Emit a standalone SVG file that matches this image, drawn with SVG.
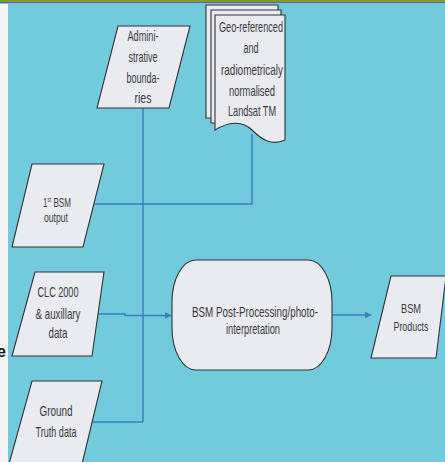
<svg xmlns="http://www.w3.org/2000/svg" width="445" height="462" viewBox="0 0 445 462">
  <defs>
    <style>
      .box { fill: #e9ebf1; stroke: #333; stroke-width: 1.1; }
      .lbl { font-family: "Liberation Sans", Arial, sans-serif; font-size: 15px; fill: #3a3a3a; text-anchor: middle; }
      .sm { font-size: 13.5px; }
      .wire { fill: none; stroke: #3f7cc0; stroke-width: 1.5; }
    </style>
    <marker id="arrow" viewBox="0 0 10 10" refX="9" refY="5" markerWidth="7" markerHeight="7" orient="auto" markerUnits="userSpaceOnUse">
      <path d="M0,0 L10,5 L0,10 z" fill="#3f7cc0"/>
    </marker>
  </defs>

  <!-- slide frame -->
  <rect x="0" y="0" width="445" height="462" fill="#f4f5f6"/>
  <rect x="0" y="0" width="445" height="2.2" fill="#7f9b2e"/>
  <rect x="0" y="2.2" width="445" height="1.2" fill="#2e4f9b"/>
  <rect x="8" y="4" width="437" height="458" fill="#72cbdc"/>
  <text x="-3" y="357" font-family="Liberation Sans, Arial, sans-serif" font-weight="bold" font-size="16" fill="#111">e</text>

  <!-- connectors -->
  <g id="connectors">
    <path class="wire" d="M143,108 V422"/>
    <path class="wire" d="M252,134 V204 H143"/>
    <path class="wire" d="M94,204 H143"/>
    <path class="wire" d="M92,422 H143"/>
    <path class="wire" d="M98,314 H125 V315.5 H171" marker-end="url(#arrow)"/>
    <path class="wire" d="M332,315 H371" marker-end="url(#arrow)"/>
  </g>

  <!-- Administrative boundaries -->
  <g id="admin">
    <polygon class="box" points="118,26 190,26 169,108 97,108"/>
    <text class="lbl" x="143" y="41" textLength="31" lengthAdjust="spacingAndGlyphs">Admini-</text>
    <text class="lbl" x="143" y="62" textLength="29" lengthAdjust="spacingAndGlyphs">strative</text>
    <text class="lbl" x="143" y="83" textLength="33" lengthAdjust="spacingAndGlyphs">bounda-</text>
    <text class="lbl" x="143" y="103" textLength="17" lengthAdjust="spacingAndGlyphs">ries</text>
  </g>

  <!-- Landsat TM document stack -->
  <g id="landsat">
    <path class="box" d="M206,5 H278 V118 H206 Z"/>
    <path class="box" d="M211,10 H281 V123 H211 Z"/>
    <path class="box" d="M215,15 H285 V140 C272,146 262,140 252,130 C242,120 228,122 215,130 Z"/>
    <text class="lbl" x="251" y="32" textLength="64" lengthAdjust="spacingAndGlyphs">Geo-referenced</text>
    <text class="lbl" x="251" y="53" textLength="15" lengthAdjust="spacingAndGlyphs">and</text>
    <text class="lbl" x="252" y="75" textLength="62" lengthAdjust="spacingAndGlyphs">radiometricaly</text>
    <text class="lbl" x="252" y="96" textLength="46" lengthAdjust="spacingAndGlyphs">normalised</text>
    <text class="lbl" x="252" y="116" textLength="48" lengthAdjust="spacingAndGlyphs">Landsat TM</text>
  </g>

  <!-- 1st BSM output -->
  <g id="first-bsm">
    <polygon class="box" points="32,164 104,164 83,247 12,247"/>
    <text class="lbl sm" transform="translate(57,207) scale(0.6,1)">1<tspan font-size="8" dy="-5">st</tspan><tspan dy="5"> BSM</tspan></text>
    <text class="lbl sm" x="56" y="222" textLength="24" lengthAdjust="spacingAndGlyphs">output</text>
  </g>

  <!-- CLC 2000 & auxillary data -->
  <g id="clc">
    <polygon class="box" points="35,272 104,272 92,356 12,356"/>
    <text class="lbl" x="58" y="297" textLength="41" lengthAdjust="spacingAndGlyphs">CLC 2000</text>
    <text class="lbl" x="58" y="319" textLength="45" lengthAdjust="spacingAndGlyphs">&amp; auxillary</text>
    <text class="lbl" x="58" y="338" textLength="19" lengthAdjust="spacingAndGlyphs">data</text>
  </g>

  <!-- Ground Truth data -->
  <g id="ground-truth">
    <polygon class="box" points="32,381 102,381 82,464 9,464"/>
    <text class="lbl" x="56" y="416" textLength="33" lengthAdjust="spacingAndGlyphs">Ground</text>
    <text class="lbl" x="56" y="437" textLength="41" lengthAdjust="spacingAndGlyphs">Truth data</text>
  </g>

  <!-- BSM post-processing / photo-interpretation -->
  <g id="post-processing">
    <rect class="box" x="172" y="260" width="160" height="110" rx="24" ry="42"/>
    <text class="lbl" x="255" y="317" textLength="126" lengthAdjust="spacingAndGlyphs">BSM Post-Processing/photo-</text>
    <text class="lbl" x="253" y="334" textLength="54" lengthAdjust="spacingAndGlyphs">interpretation</text>
  </g>

  <!-- BSM Products -->
  <g id="products">
    <polygon class="box" points="391,276 446,276 436,358 371,358"/>
    <text class="lbl sm" x="411" y="313" textLength="20" lengthAdjust="spacingAndGlyphs">BSM</text>
    <text class="lbl sm" x="411" y="331" textLength="35" lengthAdjust="spacingAndGlyphs">Products</text>
  </g>
</svg>
